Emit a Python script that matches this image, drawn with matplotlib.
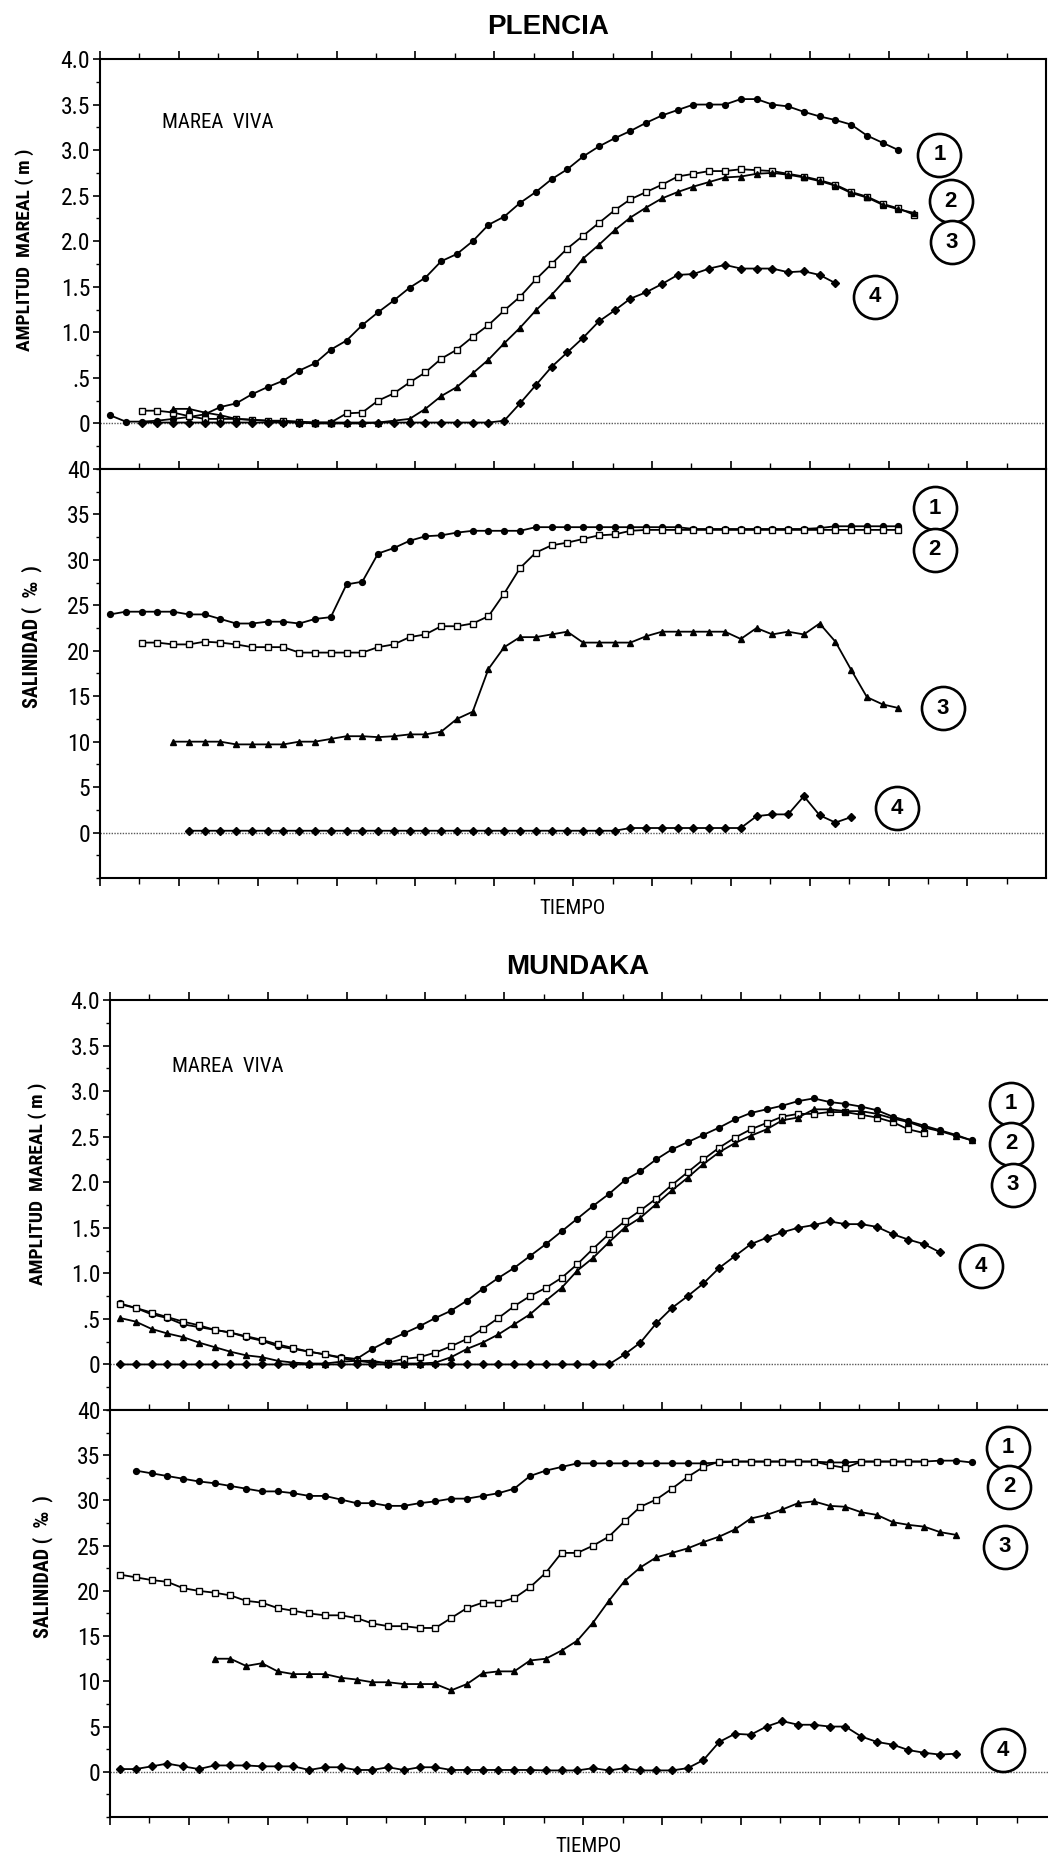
import numpy as np
import matplotlib
matplotlib.use("Agg")
import matplotlib.pyplot as plt
from matplotlib.ticker import FixedLocator, MultipleLocator

NARROW = ["Liberation Sans Narrow", "Roboto Condensed", "DejaVu Sans Condensed",
          "Roboto", "DejaVu Sans"]
plt.rcParams["font.family"] = NARROW

# ---- data (x = sample index along TIEMPO, y = value) ----
# PLENCIA - amplitud mareal (m)
p_amp1_start = 0
p_amp1 = [0.09, 0.02, 0.02, 0.03, 0.05, 0.07, 0.10, 0.18, 0.22, 0.32, 0.40, 0.47, 0.58,
          0.66, 0.81, 0.91, 1.08, 1.22, 1.35, 1.49, 1.60, 1.78, 1.86, 2.00, 2.18, 2.27,
          2.42, 2.54, 2.68, 2.79, 2.93, 3.04, 3.13, 3.21, 3.30, 3.38, 3.44, 3.50, 3.50,
          3.50, 3.56, 3.56, 3.50, 3.48, 3.42, 3.37, 3.33, 3.28, 3.16, 3.08, 3.00]
p_amp2_start = 2
p_amp2 = [0.14, 0.14, 0.12, 0.08, 0.05, 0.05, 0.05, 0.04, 0.03, 0.03, 0.02, 0.01, 0.01,
          0.11, 0.12, 0.25, 0.33, 0.45, 0.56, 0.71, 0.81, 0.95, 1.08, 1.24, 1.39, 1.58,
          1.75, 1.92, 2.06, 2.20, 2.34, 2.46, 2.54, 2.62, 2.71, 2.74, 2.77, 2.77, 2.79,
          2.78, 2.77, 2.74, 2.71, 2.67, 2.62, 2.54, 2.49, 2.41, 2.36, 2.29]
p_amp3_start = 4
p_amp3 = [0.16, 0.16, 0.12, 0.09, 0.05, 0.04, 0.03, 0.02, 0.01, 0.0, 0.0, 0.0, 0.0, 0.01,
          0.03, 0.05, 0.16, 0.30, 0.40, 0.55, 0.70, 0.88, 1.05, 1.24, 1.41, 1.60, 1.81,
          1.96, 2.12, 2.26, 2.37, 2.47, 2.54, 2.60, 2.65, 2.70, 2.71, 2.74, 2.75, 2.73,
          2.70, 2.66, 2.61, 2.53, 2.48, 2.40, 2.35, 2.31]
p_amp4_start = 2
p_amp4 = [0.01] * 23 + [0.03, 0.22, 0.42, 0.62, 0.78, 0.94, 1.12, 1.24, 1.37, 1.44, 1.53,
                        1.63, 1.64, 1.70, 1.74, 1.70, 1.70, 1.70, 1.66, 1.67, 1.63, 1.54]

# PLENCIA - salinidad (per mil)
p_sal1_start = 0
p_sal1 = [24.0, 24.3, 24.3, 24.3, 24.3, 24.0, 24.0, 23.5, 23.0, 23.0, 23.2, 23.2, 23.0,
          23.5, 23.7, 27.3, 27.6, 30.7, 31.3, 32.1, 32.6, 32.7, 33.0, 33.2, 33.2, 33.2,
          33.2, 33.6, 33.6, 33.6, 33.6, 33.6, 33.6, 33.6, 33.6, 33.6, 33.6, 33.4, 33.4,
          33.4, 33.4, 33.4, 33.4, 33.4, 33.4, 33.5, 33.7, 33.7, 33.7, 33.7, 33.7]
p_sal2_start = 2
p_sal2 = [20.9, 20.9, 20.7, 20.7, 21.0, 20.9, 20.7, 20.4, 20.4, 20.4, 19.8, 19.8, 19.8,
          19.8, 19.8, 20.4, 20.7, 21.5, 21.8, 22.7, 22.7, 23.0, 23.8, 26.3, 29.1, 30.8,
          31.6, 31.9, 32.3, 32.7, 32.8, 33.2, 33.3, 33.3, 33.3, 33.3, 33.3, 33.3, 33.3,
          33.3, 33.3, 33.3, 33.3, 33.3, 33.3, 33.3, 33.3, 33.3, 33.3]
p_sal3_start = 4
p_sal3 = [10.0, 10.0, 10.0, 10.0, 9.7, 9.7, 9.7, 9.7, 10.0, 10.0, 10.3, 10.6, 10.6, 10.5,
          10.6, 10.8, 10.8, 11.1, 12.5, 13.3, 18.0, 20.4, 21.5, 21.5, 21.8, 22.1, 20.9,
          20.9, 20.9, 20.9, 21.6, 22.1, 22.1, 22.1, 22.1, 22.1, 21.3, 22.5, 21.8, 22.1,
          21.8, 23.0, 21.0, 17.9, 14.9, 14.1, 13.7]
p_sal4_start = 5
p_sal4 = [0.2] * 28 + [0.5] * 8 + [1.8, 2.0, 2.0, 4.0, 1.9, 1.1, 1.7]

# MUNDAKA - amplitud mareal (m)
m_amp1_start = 0
m_amp1 = [0.67, 0.62, 0.55, 0.51, 0.44, 0.41, 0.38, 0.35, 0.30, 0.26, 0.20, 0.17, 0.14,
          0.11, 0.08, 0.06, 0.17, 0.26, 0.34, 0.42, 0.51, 0.59, 0.70, 0.83, 0.95, 1.06,
          1.19, 1.32, 1.46, 1.60, 1.74, 1.87, 2.02, 2.12, 2.25, 2.36, 2.44, 2.52, 2.60,
          2.69, 2.76, 2.80, 2.84, 2.89, 2.92, 2.88, 2.86, 2.83, 2.79, 2.72, 2.67, 2.62,
          2.57, 2.52, 2.46]
m_amp2_start = 0
m_amp2 = [0.66, 0.62, 0.57, 0.52, 0.47, 0.43, 0.38, 0.35, 0.31, 0.27, 0.22, 0.18, 0.14,
          0.11, 0.07, 0.04, 0.02, 0.02, 0.06, 0.08, 0.13, 0.20, 0.28, 0.39, 0.51, 0.64,
          0.75, 0.84, 0.95, 1.10, 1.27, 1.43, 1.57, 1.69, 1.82, 1.97, 2.11, 2.25, 2.38,
          2.49, 2.58, 2.65, 2.72, 2.75, 2.75, 2.77, 2.77, 2.74, 2.71, 2.66, 2.58, 2.54]
m_amp3_start = 0
m_amp3 = [0.51, 0.47, 0.39, 0.34, 0.30, 0.24, 0.19, 0.14, 0.10, 0.08, 0.04, 0.02, 0.01,
          0.01, 0.03, 0.04, 0.04, 0.01, 0.01, 0.01, 0.02, 0.08, 0.17, 0.24, 0.33, 0.44,
          0.55, 0.70, 0.84, 1.03, 1.17, 1.34, 1.50, 1.61, 1.76, 1.91, 2.05, 2.20, 2.33,
          2.43, 2.51, 2.58, 2.68, 2.71, 2.80, 2.80, 2.78, 2.78, 2.75, 2.70, 2.66, 2.60,
          2.56, 2.51, 2.46]
m_amp4_start = 0
m_amp4 = [0.0] * 32 + [0.11, 0.24, 0.45, 0.62, 0.75, 0.89, 1.06, 1.19, 1.32, 1.39, 1.45,
                       1.50, 1.53, 1.57, 1.54, 1.54, 1.51, 1.43, 1.37, 1.32, 1.23]

# MUNDAKA - salinidad (per mil)
m_sal1_start = 1
m_sal1 = [33.3, 33.0, 32.7, 32.4, 32.1, 31.9, 31.6, 31.3, 31.0, 31.0, 30.8, 30.5, 30.5,
          30.1, 29.7, 29.7, 29.4, 29.4, 29.7, 29.9, 30.2, 30.2, 30.5, 30.8, 31.3, 32.7,
          33.3, 33.7, 34.1] + [34.1] * 8 + [34.2, 34.3, 34.3, 34.3, 34.3, 34.3, 34.3,
                                            34.2, 34.2, 34.3, 34.3, 34.3, 34.3, 34.3,
                                            34.4, 34.4, 34.2]
m_sal2_start = 0
m_sal2 = [21.8, 21.5, 21.2, 21.0, 20.3, 20.0, 19.8, 19.5, 18.9, 18.7, 18.1, 17.8, 17.5,
          17.3, 17.3, 17.0, 16.4, 16.1, 16.1, 15.9, 15.9, 17.0, 18.1, 18.7, 18.7, 19.2,
          20.4, 22.0, 24.2, 24.2, 25.0, 26.0, 27.7, 29.3, 30.1, 31.3, 32.6, 33.7, 34.3,
          34.3, 34.3, 34.3, 34.3, 34.3, 34.3, 33.9, 33.6, 34.3, 34.3, 34.3, 34.3, 34.3]
m_sal3_start = 6
m_sal3 = [12.5, 12.5, 11.7, 12.0, 11.1, 10.8, 10.8, 10.8, 10.4, 10.2, 9.9, 9.9, 9.7, 9.7,
          9.7, 9.0, 9.7, 10.9, 11.1, 11.1, 12.3, 12.5, 13.4, 14.5, 16.5, 18.9, 21.1, 22.6,
          23.7, 24.2, 24.7, 25.4, 26.0, 26.8, 28.0, 28.4, 29.0, 29.7, 29.9, 29.4, 29.3,
          28.7, 28.4, 27.6, 27.3, 27.1, 26.5, 26.2]
m_sal4_start = 0
m_sal4 = [0.3, 0.3, 0.6, 0.9, 0.6, 0.3, 0.7, 0.7, 0.7, 0.6, 0.6, 0.6, 0.2, 0.5, 0.5, 0.2,
          0.2, 0.5, 0.2, 0.5, 0.5, 0.2, 0.2, 0.2, 0.2, 0.2, 0.2, 0.15, 0.15, 0.15, 0.4,
          0.15, 0.4, 0.15, 0.15, 0.15, 0.4, 1.3, 3.3, 4.2, 4.1, 5.0, 5.6, 5.2, 5.2, 5.0,
          5.0, 3.9, 3.3, 3.0, 2.4, 2.1, 1.9, 2.0]

# circled series numbers (x index, y value)
series_ids = ["1", "2", "3", "4"]
p_amp_lab = [(52.6, 2.95), (53.3, 2.44), (53.4, 1.99), (48.5, 1.39)]
p_sal_lab = [(52.3, 35.7), (52.3, 31.1), (52.8, 13.7), (49.9, 2.7)]
m_amp_lab = [(56.5, 2.86), (56.5, 2.42), (56.6, 1.97), (54.6, 1.08)]
m_sal_lab = [(56.3, 35.8), (56.4, 31.5), (56.1, 24.9), (56.0, 2.4)]

amp_ticks = [0, 0.5, 1.0, 1.5, 2.0, 2.5, 3.0, 3.5, 4.0]
amp_ticklabels = ["0", ".5", "1.0", "1.5", "2.0", "2.5", "3.0", "3.5", "4.0"]
sal_ticks = [0, 5, 10, 15, 20, 25, 30, 35, 40]
sal_ticklabels = ["0", "5", "10", "15", "20", "25", "30", "35", "40"]

# ---- figure ----
W, H = 1048, 1857
fig = plt.figure(figsize=(W / 100, H / 100), dpi=100)

XMIN = -0.633
XMAX = XMIN + 946 / 15.77
markers = ["o", "s", "^", "D"]


def rect(left, top, bottom, width=946):
    return [left / W, 1 - bottom / H, width / W, (bottom - top) / H]


def draw_panel(ax, series, labels, kind):
    for i, (start, vals) in enumerate(series):
        x = np.arange(start, start + len(vals))
        ax.plot(x, vals, color="black", lw=1.3, marker=markers[i], ms=4.2,
                mfc="white" if i == 1 else "black", mec="black", mew=1.0, zorder=3)
    ax.axhline(0, color="0.35", lw=1.0, ls=(0, (1, 1)), zorder=1)
    for sid, (lx, ly) in zip(series_ids, labels):
        ax.plot(lx, ly, "o", ms=31, mfc="white", mec="black", mew=1.9, zorder=4,
                clip_on=False)
        ax.text(lx, ly, sid, ha="center", va="center", fontsize=16, fontweight="bold",
                family=["Liberation Sans", "DejaVu Sans"], zorder=5)
    ax.set_xlim(XMIN, XMAX)
    ax.xaxis.set_major_locator(FixedLocator(XMIN + 5 * np.arange(13)))
    ax.xaxis.set_minor_locator(FixedLocator(XMIN + 2.5 * np.arange(25)))
    if kind == "amp":
        ax.set_ylim(-0.5, 4.0)
        ax.set_yticks(amp_ticks)
        ax.set_yticklabels(amp_ticklabels)
        ax.yaxis.set_minor_locator(MultipleLocator(0.25))
        ax.tick_params(axis="x", which="both", top=True, bottom=False,
                       labeltop=False, labelbottom=False, direction="out")
    else:
        ax.set_ylim(-5, 40)
        ax.set_yticks(sal_ticks)
        ax.set_yticklabels(sal_ticklabels)
        ax.yaxis.set_minor_locator(MultipleLocator(2.5))
        ax.tick_params(axis="x", which="both", top=True, bottom=True,
                       labeltop=False, labelbottom=False, direction="out")
    ax.tick_params(axis="x", which="major", length=6, width=1.2)
    ax.tick_params(axis="x", which="minor", length=4, width=1.0)
    ax.tick_params(axis="y", which="major", length=5, width=1.2, labelsize=17, pad=2)
    ax.tick_params(axis="y", which="minor", length=3, width=1.0)
    for sp in ax.spines.values():
        sp.set_linewidth(1.5)


ax1 = fig.add_axes(rect(100, 59, 469))
ax2 = fig.add_axes(rect(100, 469, 878))
ax3 = fig.add_axes(rect(110, 1000, 1410))
ax4 = fig.add_axes(rect(110, 1410, 1817))

draw_panel(ax1, [(p_amp1_start, p_amp1), (p_amp2_start, p_amp2),
                 (p_amp3_start, p_amp3), (p_amp4_start, p_amp4)], p_amp_lab, "amp")
draw_panel(ax2, [(p_sal1_start, p_sal1), (p_sal2_start, p_sal2),
                 (p_sal3_start, p_sal3), (p_sal4_start, p_sal4)], p_sal_lab, "sal")
draw_panel(ax3, [(m_amp1_start, m_amp1), (m_amp2_start, m_amp2),
                 (m_amp3_start, m_amp3), (m_amp4_start, m_amp4)], m_amp_lab, "amp")
draw_panel(ax4, [(m_sal1_start, m_sal1), (m_sal2_start, m_sal2),
                 (m_sal3_start, m_sal3), (m_sal4_start, m_sal4)], m_sal_lab, "sal")


def ftext(x, y, s, **kw):
    fig.text(x / W, 1 - y / H, s, **kw)


bold = dict(fontweight="bold", ha="center", va="center")
ftext(548, 27, "PLENCIA", fontsize=20, family=["Liberation Sans", "DejaVu Sans"], **bold)
ftext(578, 967, "MUNDAKA", fontsize=20, family=["Liberation Sans", "DejaVu Sans"], **bold)

ftext(25, 250, "AMPLITUD  MAREAL ( m )", fontsize=14, rotation=90, **bold)
ftext(32, 637, "SALINIDAD (  ‰  )", fontsize=14.5, rotation=90, **bold)
ftext(38, 1184, "AMPLITUD  MAREAL ( m )", fontsize=14, rotation=90, **bold)
ftext(43, 1567, "SALINIDAD (  ‰  )", fontsize=14.5, rotation=90, **bold)

ftext(218, 122, "MAREA  VIVA", fontsize=15, ha="center", va="center")
ftext(228, 1067, "MAREA  VIVA", fontsize=15, ha="center", va="center")

ftext(573, 909, "TIEMPO", fontsize=15, ha="center", va="center")
ftext(588, 1846, "TIEMPO", fontsize=15, ha="center", va="center")

fig.savefig("out.png", dpi=100, facecolor="white")
